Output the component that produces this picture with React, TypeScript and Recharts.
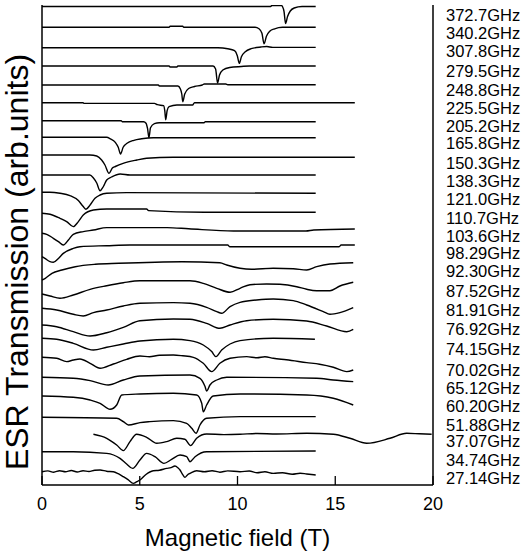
import { Line, LineChart, XAxis, YAxis } from "recharts";

// field axis (T)
const fieldTicks = [0, 5, 10, 15, 20];

// frequency labels, top to bottom, and where they sit on the offset scale
const freqLabels = [
  "372.7GHz", "340.2GHz", "307.8GHz", "279.5GHz", "248.8GHz", "225.5GHz", "205.2GHz",
  "165.8GHz", "150.3GHz", "138.3GHz", "121.0GHz", "110.7GHz", "103.6GHz", "98.29GHz",
  "92.30GHz", "87.52GHz", "81.91GHz", "76.92GHz", "74.15GHz", "70.02GHz", "65.12GHz",
  "60.20GHz", "51.88GHz", "37.07GHz", "34.74GHz", "27.14GHz",
];
const labelLevels = [
  470, 451.7, 433.3, 413.3, 395, 376.7, 358.3, 341.7, 321.7, 303.3, 285.7, 266.7, 248.3,
  231.7, 213.3, 193.3, 175, 155.7, 135.7, 115, 96.7, 78.3, 60, 43.3, 25, 6.7,
];

// vertical offset of each spectrum (arb. units)
const offsets = [
  478.5, 457.7, 437.3, 419, 400, 382.3, 364.3, 347.7, 330, 310, 292.7, 271.7, 251.7,
  228.3, 205, 191, 176.7, 160, 146.7, 127.7, 107.7, 89, 67.7, 50.7, 33.3, 13.3,
];

// spectra: [field T, transmission]
const s372 = [[0, 0], [11.7, 0], [11.75, 1], [12.25, 1], [12.3, 0], [12.38, -5], [12.46, -17], [12.56, -10], [12.7, -4.5], [12.9, -1.5], [13.3, 0], [14, 0]];
const s340 = [[0, 0], [6.5, 0], [6.55, 1], [7.2, 1], [7.25, 0], [10.9, 0], [11.1, -1.5], [11.25, -6], [11.36, -16.5], [11.48, -9], [11.65, -4], [11.9, -1.5], [12.3, 0], [14, 0]];
const s307 = [[0, 0], [9.0, 0], [9.5, -1], [9.85, -3], [9.99, -8], [10.09, -15.7], [10.2, -9], [10.4, -4], [10.7, -1], [11.2, 0.7], [11.5, 1.2], [11.8, 0.3], [14, 0.3]];
const s279 = [[0, 0], [6.5, 0], [6.55, -1], [6.9, -1], [6.95, 0], [8.75, 0], [8.88, -3], [8.98, -17], [9.08, -9], [9.25, -4], [9.6, -1.5], [10.2, -0.5], [10.6, 0], [14, 0]];
const s248 = [[0, 0], [5.95, 0], [6.0, -1], [6.95, -1], [7.08, -4], [7.15, -9], [7.2, -16.7], [7.3, -9], [7.5, -3.5], [7.8, -1.5], [8.2, 0], [8.3, 1], [9.4, 1], [9.5, 0.3], [14, 0.3]];
const s225 = [[0, 0], [2.1, 0], [2.15, -0.7], [5.75, -0.7], [5.9, -2], [6.22, -3], [6.28, -8], [6.33, -17], [6.4, -8], [6.5, -4], [6.9, -2.3], [7.7, -2.3], [7.8, 0], [16, 0]];
const s205 = [[0, 0], [4.05, 0], [4.1, -1], [5.2, -1], [5.32, -2.5], [5.4, -8], [5.47, -17], [5.55, -7], [5.75, -3], [6.0, -2], [8.3, -2], [8.35, -1], [14, -1]];
const s165 = [[0, 0], [3.3, 0], [3.5, -1.5], [3.75, -5], [3.9, -10], [4.02, -16.7], [4.15, -10], [4.35, -6], [4.7, -3], [5.1, -1.5], [5.7, -0.5], [14, -0.5]];
const s150 = [[0, 0], [2.45, 0], [2.8, -1], [3.05, -5], [3.22, -10], [3.43, -18.3], [3.6, -13], [3.75, -11.5], [4.15, -8.3], [4.85, -5], [5.35, -3.3], [6.7, -2.3], [16, -2.3]];
const s138 = [[0, 0], [2.45, 0], [2.63, -3], [2.8, -8], [2.97, -15.7], [3.14, -11.5], [3.31, -5], [3.56, -2], [4.0, 1], [4.5, 0], [14, 0]];
const s121 = [[0, 0], [0.4, 0], [0.92, -1], [1.43, -3.3], [1.86, -8.3], [2.11, -14.3], [2.25, -17], [2.46, -12.7], [2.71, -6], [2.97, -2.7], [3.31, -1], [4.33, -0.3], [14, -1]];
const s110 = [[0, 0], [0.41, -1], [0.92, -5], [1.26, -8.3], [1.6, -13.3], [1.86, -8.3], [2.11, -1.7], [2.63, 3.3], [3.31, 4.3], [5.35, 4.3], [5.45, 2.7], [8.3, 1], [14, 1]];
const s103 = [[0, 0], [0.24, -1], [0.58, -5], [0.84, -8.3], [1.09, -11.7], [1.35, -6.7], [1.6, -1], [2.11, 1.7], [2.63, 3.3], [3.31, 5.7], [6.4, 5.7], [7.5, 4.5], [9.8, 2.3], [13.5, 2.3], [13.9, 3.3], [16, 4.3]];
const s98 = [[0, 0], [0.15, -1.7], [0.41, -5], [0.58, -5.6], [0.84, -1.7], [1.09, 3.3], [1.6, 8.3], [1.94, 10], [3.31, 11], [4.5, 11.7], [9.5, 11.7], [9.6, 10], [15.2, 10], [15.3, 11.7], [16, 11.7]];
const s92 = [[0, 0], [0.17, 1.7], [0.51, 6.7], [1.02, 10], [1.7, 13.3], [2.73, 15.7], [3.92, 16.7], [7.16, 18.3], [9.1, 17.3], [9.45, 15], [10.13, 11.7], [10.72, 10.7], [11.83, 11.7], [12.85, 11.3], [13.54, 10], [14.05, 13.3], [14.73, 16], [15.92, 17.3]];
const s87 = [[0, 0], [0.41, -2], [0.92, -4.3], [1.6, -1], [2.46, 4.7], [3.31, 8.3], [4.16, 11.3], [5.01, 13.3], [7.57, 13.3], [8.25, 10.7], [8.94, 5.7], [9.62, 1.7], [10.13, 5.7], [10.64, 9.3], [11.49, 10], [12.17, 9.7], [13.03, 7.3], [13.54, 4.7], [14.05, 3.3], [14.73, 3.3], [15.24, 8], [15.92, 11.7]];
const s81 = [[0, 0], [0.75, -1.7], [1.6, -6], [2.11, -7.7], [2.63, -4.3], [3.31, -1.7], [4.16, 2.3], [5.01, 5], [6.72, 5.7], [7.57, 5], [8.42, 1], [8.94, -3.3], [9.19, -5], [9.62, 1.7], [10.13, 6], [10.98, 8.3], [11.83, 9.3], [12.85, 7.7], [13.54, 3.3], [14.39, -3.3], [14.73, -6], [15.24, -4.3], [15.92, 0.7]];
const s76 = [[0, 0], [0.75, -1.7], [1.6, -6.7], [2.46, -11], [3.31, -7.7], [4.16, -2.3], [5.01, 4.3], [6.72, 6], [7.57, 5.7], [8.42, 1.7], [9.1, -3.3], [9.62, 0], [10.47, 4.3], [11.83, 5.7], [13.54, 4], [14.56, -1], [15.59, -6.7], [15.92, -4.3]];
const s74 = [[0, 0], [0.75, -1], [1.6, -5], [2.63, -11.7], [3.31, -9], [4.16, -5.7], [5.01, -2.7], [6.72, -1], [7.57, -2.3], [8.25, -6.7], [8.68, -13.3], [8.9, -18.3], [9.19, -11.7], [9.62, -5.7], [10.13, -2.3], [11.83, 0], [13.96, -1]];
const s70 = [[0, 0], [0.75, -1], [1.26, -4.3], [1.6, -2.7], [1.94, -1.7], [2.46, -6], [2.97, -11], [3.65, -6.7], [4.33, -2], [5.01, 1.3], [5.5, 0.5], [6.0, 2], [6.72, 2.3], [7.2, 1.5], [7.74, 0], [8.25, -6], [8.68, -14.3], [9.1, -6], [9.62, -1], [10.47, 0.7], [11.0, -0.5], [11.4, 0.5], [11.83, -1], [12.5, -2.5], [13.54, -5.3], [14.2, -7], [14.9, -10], [15.59, -14.3], [15.92, -12.7]];
const s65 = [[0, 0], [1.6, -1], [2.46, -3.3], [3.39, -7.7], [4.16, -2.7], [5.01, 1.3], [7.57, 2.3], [8.08, -1], [8.34, -9.3], [8.42, -13.7], [8.59, -7.7], [8.94, -2.7], [9.45, 0], [14.05, -1], [14.9, -2.7], [15.92, -4.3]];
const s60 = [[0, 0], [1.6, -1.3], [2.46, -4], [2.97, -7.3], [3.48, -13.3], [3.82, -9], [4.08, 1], [5.01, 2], [6.72, 2.7], [7.91, 1], [8.17, -7.3], [8.25, -15.7], [8.42, -9], [8.76, 0], [10.13, 2], [13.54, 1], [14.9, -2.3], [15.92, -9]];
const s51 = [[0, 0], [3.82, -1], [4.16, -4.3], [4.42, -7.7], [5.01, -5.3], [5.52, -4.3], [6.72, -3.3], [7.4, -6], [7.66, -11], [7.88, -16], [8.08, -7.7], [8.42, -1], [10.13, 0.7], [14, 0.7]];
const s37 = [[2.63, 0], [3.31, -4], [3.82, -10.7], [4.16, -16.3], [4.5, -7.3], [4.84, 0], [5.35, -3], [5.87, -9], [6.38, -7.3], [6.89, -4], [7.31, -5], [7.6, -11.3], [7.91, -4], [8.42, 0.3], [9.3, -0.3], [10.13, 0], [11, 0.8], [12, 0.3], [13.54, 1], [14.9, 0], [15.75, -4], [16.61, -9], [17.8, -4], [18.65, 1], [19.3, 0.5], [19.93, 0]];
const s34 = [[0, 0], [1.6, 0], [3.31, -1.7], [3.99, -6.7], [4.33, -12.3], [4.64, -16.7], [5.01, -8.3], [5.35, -1.7], [5.78, -5], [6.24, -11.7], [6.63, -7.7], [7.06, -3.3], [7.4, -5], [7.57, -10], [7.83, -5], [8.42, 0], [14, 0.7]];
const s27 = [[0, 0], [0.3, 0.8], [0.6, -0.5], [0.9, 1], [1.2, 0], [1.5, 1.2], [1.8, -0.3], [2.1, 1], [2.4, 0.2], [2.7, 1.5], [2.97, 1.7], [3.3, 0.5], [3.65, 0], [3.9, -2], [4.16, -5], [4.4, -8], [4.67, -11.7], [4.85, -10], [5.01, -8.3], [5.3, -3], [5.69, 1], [6.0, 1.5], [6.38, 3.3], [6.6, 4], [6.8, 5.7], [6.95, 4], [7.06, 1.7], [7.2, -3], [7.31, -5.7], [7.45, -3], [7.57, -1.7], [7.91, 1], [8.3, 0], [8.7, 1], [9.1, -0.5], [9.5, 0.8], [10.13, 0], [10.6, 0.7], [11.0, -1], [11.4, 0], [11.83, -1.7], [12.3, -1], [12.8, -2.5], [13.2, -1.5], [13.54, -2.3], [14, -3.3]];

const spectra = [
  s372, s340, s307, s279, s248, s225, s205, s165, s150, s138, s121, s110, s103,
  s98, s92, s87, s81, s76, s74, s70, s65, s60, s51, s37, s34, s27,
];

const series = spectra.map((pts, i) => pts.map(([x, v]) => ({ x, y: offsets[i] + v })));

const axisLine = { stroke: "#000", strokeWidth: 1.5 };

function FieldTick({ x, y, payload }: any) {
  return (
    <g>
      <line x1={x} x2={x} y1={y - 2} y2={y - 11} stroke="#000" strokeWidth={1.3} />
      <text x={x} y={y + 23} textAnchor="middle" fontSize={18} fill="#000">
        {payload.value}
      </text>
    </g>
  );
}

function FreqTick({ x, y, payload }: any) {
  const i = labelLevels.indexOf(payload.value);
  return (
    <text x={x + 11} y={y + 5.5} textAnchor="start" fontSize={16.5} fill="#000">
      {freqLabels[i]}
    </text>
  );
}

function YTitle() {
  return (
    <text x={28} y={262} transform="rotate(-90 28 262)" textAnchor="middle" fontSize={32} fill="#000">
      ESR Transmission (arb.units)
    </text>
  );
}

export default function App() {
  return (
    <div style={{ position: "absolute", left: 0, top: 0, background: "#fff", fontFamily: "'Liberation Sans', Arial, sans-serif" }}>
      <LineChart width={524} height={557} margin={{ top: 5, right: 0, bottom: 0, left: 0 }}>
        <XAxis
          xAxisId="b"
          dataKey="x"
          type="number"
          domain={[0, 20]}
          ticks={fieldTicks}
          interval={0}
          height={72}
          tickSize={0}
          tickLine={false}
          axisLine={axisLine}
          tick={<FieldTick />}
          label={{ value: "Magnetic field (T)", position: "insideBottom", offset: 11, fontSize: 24, fill: "#000" }}
        />
        <XAxis xAxisId="t" orientation="top" dataKey="x" type="number" domain={[0, 20]} height={0} tick={false} tickLine={false} axisLine={axisLine} />
        <YAxis yAxisId="l" type="number" domain={[0, 480]} width={42} tick={false} tickLine={false} axisLine={axisLine} label={{ content: () => <YTitle /> }} />
        <YAxis
          yAxisId="r"
          orientation="right"
          type="number"
          domain={[0, 480]}
          allowDataOverflow
          width={91}
          ticks={labelLevels}
          interval={0}
          tickSize={0}
          tickLine={false}
          axisLine={axisLine}
          tick={<FreqTick />}
        />
        {series.map((d, i) => (
          <Line
            key={freqLabels[i]}
            xAxisId="b"
            yAxisId="r"
            data={d}
            dataKey="y"
            type="monotone"
            stroke="#000"
            strokeWidth={1.4}
            dot={false}
            isAnimationActive={false}
          />
        ))}
      </LineChart>
    </div>
  );
}
